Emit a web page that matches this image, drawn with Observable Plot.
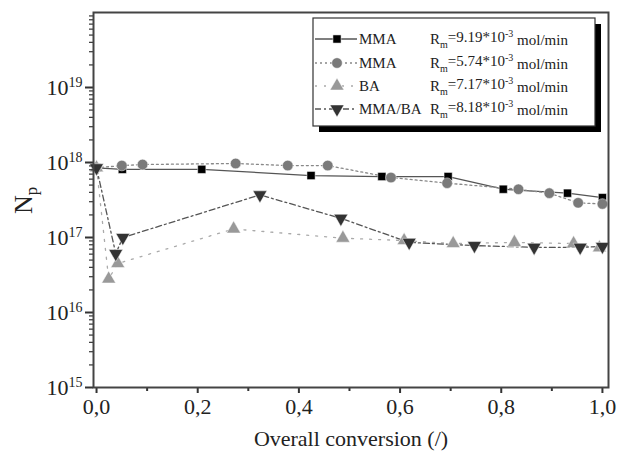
<!DOCTYPE html>
<html>
<head>
<meta charset="utf-8">
<script src="https://cdn.jsdelivr.net/npm/d3@7"></script>
<script src="https://cdn.jsdelivr.net/npm/@observablehq/plot@0.6"></script>
<style>
  html, body { margin: 0; padding: 0; background: #fff; }
  #chart { width: 618px; height: 457px; }
</style>
</head>
<body>
<div id="chart"></div>
<script>
// ---- Data ----
const seriesNames = ["MMA", "MMA", "BA", "MMA/BA"];
const seriesRates = ["9.19", "5.74", "7.17", "8.18"];

const mma1X = [0.0, 0.051, 0.208, 0.424, 0.564, 0.695, 0.804, 0.931, 1.0];
const mma1Y = [8.5e17, 8.1e17, 8.1e17, 6.7e17, 6.5e17, 6.5e17, 4.4e17, 3.9e17, 3.4e17];

const mma2X = [0.0, 0.05, 0.091, 0.275, 0.378, 0.457, 0.582, 0.693, 0.834, 0.895, 0.952, 1.0];
const mma2Y = [8.5e17, 9.1e17, 9.4e17, 9.7e17, 9.1e17, 9.1e17, 6.3e17, 5.3e17, 4.4e17, 3.9e17, 2.9e17, 2.8e17];

const baX = [0.0, 0.024, 0.042, 0.271, 0.487, 0.608, 0.705, 0.826, 0.943, 0.994];
const baY = [8.5e17, 2.8e16, 4.5e16, 1.3e17, 9.8e16, 9.1e16, 8.3e16, 8.6e16, 8.3e16, 7.3e16];

const mmabaX = [0.0, 0.038, 0.052, 0.323, 0.483, 0.618, 0.747, 0.865, 0.956, 1.0];
const mmabaY = [8.5e17, 6.1e16, 1.0e17, 3.7e17, 1.8e17, 8.6e16, 7.8e16, 7.4e16, 7.4e16, 7.6e16];

const xMajorTicks = [0, 0.2, 0.4, 0.6, 0.8, 1.0];
const xMinorTicks = [0.1, 0.3, 0.5, 0.7, 0.9];
const yMajorTicks = [1e15, 1e16, 1e17, 1e18, 1e19];
const yExponents = ["15", "16", "17", "18", "19"];

// ---- Build tables ----
const toRows = (xs, ys) => xs.map((x, i) => ({x, y: ys[i]}));
const mma1 = toRows(mma1X, mma1Y);
const mma2 = toRows(mma2X, mma2Y);
const ba = toRows(baX, baY);
const mmaba = toRows(mmabaX, mmabaY);

const yMinorTicks = [];
for (let e = 15; e < 20; e++) for (let m = 2; m <= 9; m++) yMinorTicks.push(m * Math.pow(10, e));

const downTriangle = {
  draw(context, size) {
    const y = -Math.sqrt(size / (3 * Math.sqrt(3)));
    context.moveTo(0, -y * 2);
    context.lineTo(-Math.sqrt(3) * y, y);
    context.lineTo(Math.sqrt(3) * y, y);
    context.closePath();
  }
};

const styles = [
  {data: mma1, stroke: "#555", dash: null, fill: "#000", symbol: "square", r: 4.6, sym: d3.symbolSquare},
  {data: mma2, stroke: "#888", dash: "2,3", fill: "#7a7a7a", symbol: "circle", r: 5.3, sym: d3.symbolCircle},
  {data: ba, stroke: "#aaa", dash: "2,7", fill: "#999", symbol: "triangle", r: 5.2, sym: d3.symbolTriangle},
  {data: mmaba, stroke: "#555", dash: "6,3,2,3", fill: "#333", symbol: downTriangle, r: 5.2, sym: downTriangle}
];

const font = "'Liberation Serif', 'DejaVu Serif', serif";

const marks = [];
for (const s of styles) {
  marks.push(Plot.line(s.data, {x: "x", y: "y", stroke: s.stroke, strokeWidth: 1.3, strokeDasharray: s.dash}));
}
for (const s of styles) {
  marks.push(Plot.dot(s.data, {x: "x", y: "y", symbol: () => s.symbol, fill: s.fill, stroke: "#fff", strokeWidth: 0.5, r: s.r}));
}

const plot = Plot.plot({
  width: 618,
  height: 457,
  marginLeft: 93,
  marginRight: 10,
  marginTop: 12,
  marginBottom: 70,
  style: {fontFamily: font, background: "#fff", color: "#222"},
  symbol: {type: "identity"},
  x: {domain: [-0.006, 1.012]},
  y: {type: "log", domain: [1e15, 1e20]},
  marks: [
    ...marks,
    Plot.axisX(xMajorTicks, {tickSize: 6, tickPadding: 5, strokeWidth: 2, stroke: "#333", fontSize: 22, tickFormat: d => d.toFixed(1).replace(".", ","), label: null}),
    Plot.axisX(xMinorTicks, {tickSize: 4, strokeWidth: 2, stroke: "#333", tickFormat: () => "", label: null}),
    Plot.axisY(yMajorTicks, {tickSize: 8, tickPadding: 3, strokeWidth: 2, stroke: "#333", fontSize: 22, tickFormat: d => "10^" + yExponents[yMajorTicks.indexOf(d)], label: null}),
    Plot.axisY(yMinorTicks, {tickSize: 4, strokeWidth: 1.2, stroke: "#333", tickFormat: () => "", label: null}),
    Plot.frame({stroke: "#444", strokeWidth: 2}),
    Plot.text(["Overall conversion (/)"], {frameAnchor: "bottom", dy: 58, fontSize: 22, fill: "#222", text: d => d}),
    Plot.text(["N"], {frameAnchor: "left", dx: -70, dy: 14, fontSize: 26, rotate: -90, fill: "#222", text: d => d})
  ]
});

document.getElementById("chart").appendChild(plot);

const svg = d3.select(plot);

// superscripts on y tick labels
svg.selectAll('g[aria-label="y-axis tick label"] text').each(function() {
  const t = d3.select(this);
  const txt = t.text();
  if (!txt.includes("^")) return;
  const [base, exp] = txt.split("^");
  t.text(null);
  t.append("tspan").text(base);
  t.append("tspan").attr("dy", "-0.55em").attr("font-size", "14px").text(exp);
});

// subscript p on N
svg.selectAll("text").filter(function() { return d3.select(this).text() === "N"; }).each(function() {
  const t = d3.select(this);
  t.append("tspan").attr("dy", "0.3em").attr("font-size", "17px").text("p");
});

// legend
const lg = svg.append("g").attr("font-family", font).attr("fill", "#222").attr("text-anchor", "start");
const bx = 313, by = 18, bw = 282, bh = 108;
lg.append("rect").attr("x", bx + 6).attr("y", by + 6).attr("width", bw).attr("height", bh).attr("fill", "#000");
lg.append("rect").attr("x", bx).attr("y", by).attr("width", bw).attr("height", bh).attr("fill", "#fff").attr("stroke", "#333").attr("stroke-width", 1.2);
const rowY = [39, 63, 86, 109];
styles.forEach((s, i) => {
  const y = rowY[i];
  lg.append("line").attr("x1", bx + 2).attr("x2", bx + 44).attr("y1", y).attr("y2", y)
    .attr("stroke", s.stroke).attr("stroke-width", 1.3).attr("stroke-dasharray", s.dash);
  const area = Math.PI * s.r * s.r;
  lg.append("path").attr("transform", `translate(${bx + 24},${y})`)
    .attr("d", d3.symbol(s.sym, area)()).attr("fill", s.fill).attr("stroke", "#fff").attr("stroke-width", 0.5);
  lg.append("text").attr("x", bx + 46).attr("y", y + 5).attr("font-size", 15).attr("text-anchor", "start").text(seriesNames[i]);
  const t = lg.append("text").attr("x", 430).attr("y", y + 5).attr("font-size", 15).attr("text-anchor", "start");
  t.append("tspan").text("R");
  t.append("tspan").attr("dy", "0.35em").attr("font-size", "10px").text("m");
  t.append("tspan").attr("dy", "-0.35em").text("=" + seriesRates[i] + "*10");
  t.append("tspan").attr("dy", "-0.5em").attr("font-size", "10px").text("-3");
  t.append("tspan").attr("dy", "0.5em").text(" mol/min");
});
</script>
</body>
</html>
